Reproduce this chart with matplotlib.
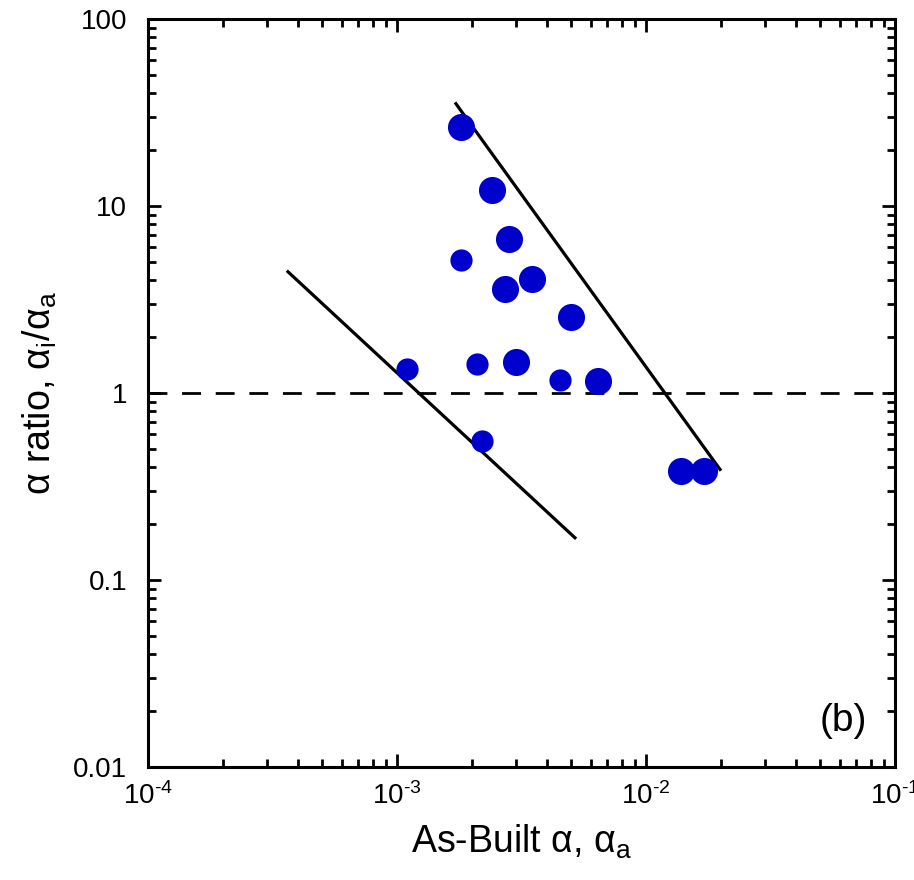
import matplotlib
matplotlib.use("Agg")
import matplotlib.pyplot as plt
from matplotlib.ticker import LogLocator, FixedLocator, FixedFormatter, NullFormatter

plt.rcParams['font.family'] = ['Liberation Sans', 'DejaVu Sans']
plt.rcParams['mathtext.fontset'] = 'custom'
plt.rcParams['mathtext.rm'] = 'Liberation Sans'
plt.rcParams['mathtext.it'] = 'Liberation Sans'
plt.rcParams['mathtext.default'] = 'regular'

# Data: large markers
x_large = [1.80e-3, 2.40e-3, 2.81e-3, 2.71e-3, 3.49e-3, 5.01e-3, 3.01e-3, 6.43e-3, 1.38e-2, 1.71e-2]
y_large = [26.5, 12.2, 6.68, 3.58, 4.06, 2.55, 1.46, 1.16, 0.383, 0.383]
# small markers
x_small = [1.80e-3, 1.10e-3, 2.10e-3, 4.52e-3, 2.20e-3]
y_small = [5.14, 1.35, 1.43, 1.18, 0.556]

# bounding lines
upper_x = [1.71e-3, 2.00e-2]
upper_y = [35.8, 0.384]
lower_x = [3.61e-4, 5.24e-3]
lower_y = [4.51, 0.166]

y_ticks = [0.01, 0.1, 1, 10, 100]
y_ticklabels = ['0.01', '0.1', '1', '10', '100']
x_ticks = [1e-4, 1e-3, 1e-2, 1e-1]
x_ticklabels = ['$10^{\u20104}$', '$10^{\u20103}$', '$10^{\u20102}$', '$10^{\u20101}$']

fig = plt.figure(figsize=(9.14, 8.8), dpi=100)
ax = fig.add_axes([0.1619, 0.1284, 0.8173, 0.85])
ax.set_xscale('log')
ax.set_yscale('log')
ax.set_xlim(1e-4, 1e-1)
ax.set_ylim(0.01, 100)

blue = '#0000CC'
ax.plot(upper_x, upper_y, color='black', lw=2.3, solid_capstyle='butt')
ax.plot(lower_x, lower_y, color='black', lw=2.3, solid_capstyle='butt')
ax.axhline(1.0, color='black', lw=2.0, dashes=(6.8, 5.3))
ax.plot(x_large, y_large, 'o', color=blue, ms=19.5, mew=0, zorder=3)
ax.plot(x_small, y_small, 'o', color=blue, ms=16, mew=0, zorder=3)

ax.xaxis.set_major_locator(FixedLocator(x_ticks))
ax.xaxis.set_major_formatter(FixedFormatter(x_ticklabels))
ax.xaxis.set_minor_locator(LogLocator(base=10, subs=range(2, 10), numticks=20))
ax.xaxis.set_minor_formatter(NullFormatter())
ax.yaxis.set_major_locator(FixedLocator(y_ticks))
ax.yaxis.set_major_formatter(FixedFormatter(y_ticklabels))
ax.yaxis.set_minor_locator(LogLocator(base=10, subs=range(2, 10), numticks=20))
ax.yaxis.set_minor_formatter(NullFormatter())

ax.tick_params(which='both', direction='in', top=True, right=True, width=2)
ax.tick_params(which='major', length=9.5, labelsize=20)
ax.tick_params(axis='y', which='major', pad=15)
ax.tick_params(axis='x', which='major', pad=11)
ax.tick_params(which='minor', length=5.5)
for s in ax.spines.values():
    s.set_linewidth(2.2)

ax.set_xlabel('As-Built α, α$_{a}$', fontsize=27, labelpad=9)
ax.set_ylabel('α ratio, α$_{i}$/α$_{a}$', fontsize=27, labelpad=10)
ax.text(0.963, 0.0615, '(b)', transform=ax.transAxes, fontsize=28, ha='right', va='center')

fig.savefig('out.png', dpi=100)
